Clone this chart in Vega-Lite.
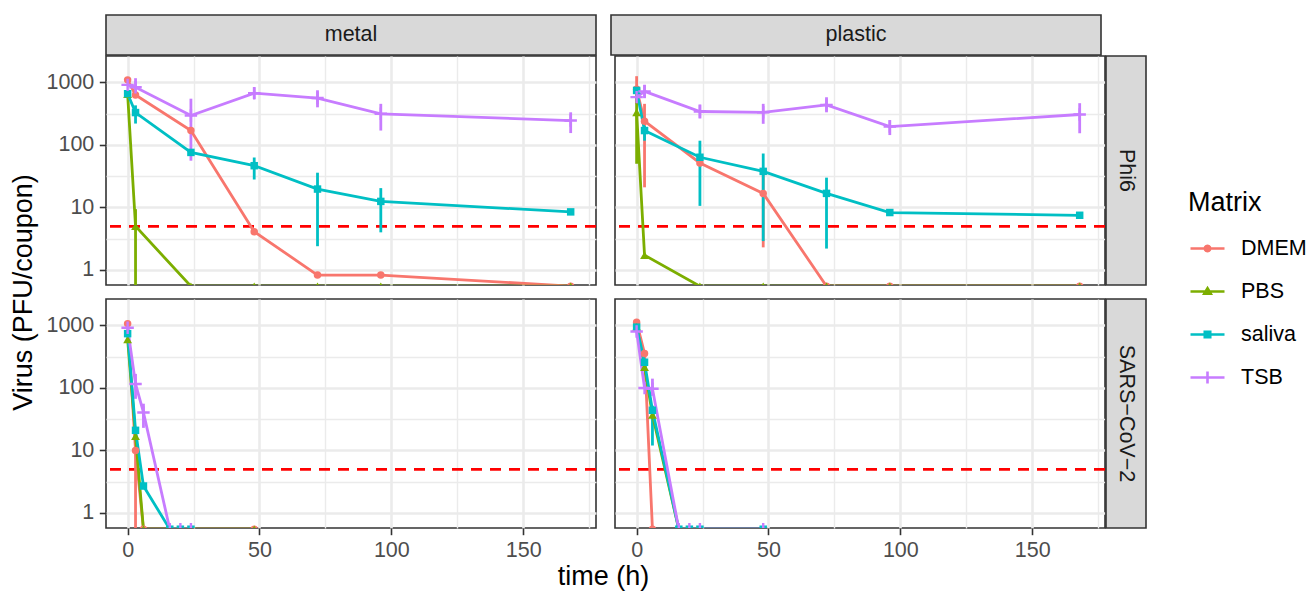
{
"$schema":"https://vega.github.io/schema/vega-lite/v6.json",
"padding":{"left":10,"top":14,"right":5,"bottom":0},
"background":"white",
"config":{"font":"Liberation Sans","view":{"stroke":null},
 "axis":{"labelFont":"Liberation Sans","labelFontSize":21.5,"labelColor":"#4D4D4D","tickColor":"#333333","tickWidth":1.6,"tickSize":6.7,"domain":false,"gridColor":"#EBEBEB","labelOverlap":false,"labelFlush":false}},
"datasets":{"d":[
{"s":"metal","v":"Phi6","m":"DMEM","t":0,"y":1100},
{"s":"metal","v":"Phi6","m":"DMEM","t":3,"y":630},
{"s":"metal","v":"Phi6","m":"DMEM","t":24,"y":170},
{"s":"metal","v":"Phi6","m":"DMEM","t":48,"y":4.1},
{"s":"metal","v":"Phi6","m":"DMEM","t":72,"y":0.83},
{"s":"metal","v":"Phi6","m":"DMEM","t":96,"y":0.83},
{"s":"metal","v":"Phi6","m":"DMEM","t":168,"y":0.55},
{"s":"metal","v":"Phi6","m":"PBS","t":0,"y":650},
{"s":"metal","v":"Phi6","m":"PBS","t":3,"y":5,"lo":0.55,"hi":9.4},
{"s":"metal","v":"Phi6","m":"PBS","t":24,"y":0.55},
{"s":"metal","v":"Phi6","m":"PBS","t":48,"y":0.55},
{"s":"metal","v":"Phi6","m":"PBS","t":72,"y":0.55},
{"s":"metal","v":"Phi6","m":"PBS","t":96,"y":0.55},
{"s":"metal","v":"Phi6","m":"PBS","t":168,"y":0.55},
{"s":"metal","v":"Phi6","m":"saliva","t":0,"y":660},
{"s":"metal","v":"Phi6","m":"saliva","t":3,"y":330,"lo":220,"hi":430},
{"s":"metal","v":"Phi6","m":"saliva","t":24,"y":76},
{"s":"metal","v":"Phi6","m":"saliva","t":48,"y":46.6,"lo":28,"hi":63},
{"s":"metal","v":"Phi6","m":"saliva","t":72,"y":19.7,"lo":2.4,"hi":36},
{"s":"metal","v":"Phi6","m":"saliva","t":96,"y":12.5,"lo":4,"hi":20.4},
{"s":"metal","v":"Phi6","m":"saliva","t":168,"y":8.5},
{"s":"metal","v":"Phi6","m":"TSB","t":0,"y":915},
{"s":"metal","v":"Phi6","m":"TSB","t":3,"y":840,"lo":700,"hi":1170},
{"s":"metal","v":"Phi6","m":"TSB","t":24,"y":296,"lo":56,"hi":550},
{"s":"metal","v":"Phi6","m":"TSB","t":48,"y":673,"lo":545,"hi":841},
{"s":"metal","v":"Phi6","m":"TSB","t":72,"y":563,"lo":400,"hi":750},
{"s":"metal","v":"Phi6","m":"TSB","t":96,"y":315,"lo":170,"hi":455},
{"s":"metal","v":"Phi6","m":"TSB","t":168,"y":246,"lo":155,"hi":333},
{"s":"plastic","v":"Phi6","m":"DMEM","t":0,"y":780,"lo":450,"hi":1260},
{"s":"plastic","v":"Phi6","m":"DMEM","t":3,"y":240,"lo":21,"hi":455},
{"s":"plastic","v":"Phi6","m":"DMEM","t":24,"y":51.5},
{"s":"plastic","v":"Phi6","m":"DMEM","t":48,"y":16.8,"lo":2.3,"hi":38.8},
{"s":"plastic","v":"Phi6","m":"DMEM","t":72,"y":0.55},
{"s":"plastic","v":"Phi6","m":"DMEM","t":96,"y":0.55},
{"s":"plastic","v":"Phi6","m":"DMEM","t":168,"y":0.55},
{"s":"plastic","v":"Phi6","m":"PBS","t":0,"y":333,"lo":50,"hi":750},
{"s":"plastic","v":"Phi6","m":"PBS","t":3,"y":1.72},
{"s":"plastic","v":"Phi6","m":"PBS","t":24,"y":0.55},
{"s":"plastic","v":"Phi6","m":"PBS","t":48,"y":0.55},
{"s":"plastic","v":"Phi6","m":"PBS","t":72,"y":0.55},
{"s":"plastic","v":"Phi6","m":"PBS","t":96,"y":0.55},
{"s":"plastic","v":"Phi6","m":"PBS","t":168,"y":0.55},
{"s":"plastic","v":"Phi6","m":"saliva","t":0,"y":745},
{"s":"plastic","v":"Phi6","m":"saliva","t":3,"y":170,"lo":117,"hi":200},
{"s":"plastic","v":"Phi6","m":"saliva","t":24,"y":63.6,"lo":10.6,"hi":117},
{"s":"plastic","v":"Phi6","m":"saliva","t":48,"y":37.8,"lo":2.9,"hi":73},
{"s":"plastic","v":"Phi6","m":"saliva","t":72,"y":16.8,"lo":2.2,"hi":30},
{"s":"plastic","v":"Phi6","m":"saliva","t":96,"y":8.3},
{"s":"plastic","v":"Phi6","m":"saliva","t":168,"y":7.5},
{"s":"plastic","v":"Phi6","m":"TSB","t":0,"y":582},
{"s":"plastic","v":"Phi6","m":"TSB","t":3,"y":720,"lo":560,"hi":920},
{"s":"plastic","v":"Phi6","m":"TSB","t":24,"y":343,"lo":265,"hi":445},
{"s":"plastic","v":"Phi6","m":"TSB","t":48,"y":333,"lo":218,"hi":455},
{"s":"plastic","v":"Phi6","m":"TSB","t":72,"y":437,"lo":333,"hi":580},
{"s":"plastic","v":"Phi6","m":"TSB","t":96,"y":197,"lo":144,"hi":250},
{"s":"plastic","v":"Phi6","m":"TSB","t":168,"y":307,"lo":154,"hi":466},
{"s":"metal","v":"SARS-CoV-2","m":"DMEM","t":0,"y":1070},
{"s":"metal","v":"SARS-CoV-2","m":"DMEM","t":3,"y":10,"lo":0.55,"hi":10},
{"s":"metal","v":"SARS-CoV-2","m":"DMEM","t":6,"y":0.55},
{"s":"metal","v":"SARS-CoV-2","m":"DMEM","t":48,"y":0.55},
{"s":"metal","v":"SARS-CoV-2","m":"PBS","t":0,"y":600},
{"s":"metal","v":"SARS-CoV-2","m":"PBS","t":3,"y":17},
{"s":"metal","v":"SARS-CoV-2","m":"PBS","t":6,"y":0.55},
{"s":"metal","v":"SARS-CoV-2","m":"PBS","t":48,"y":0.55},
{"s":"metal","v":"SARS-CoV-2","m":"saliva","t":0,"y":740},
{"s":"metal","v":"SARS-CoV-2","m":"saliva","t":3,"y":21},
{"s":"metal","v":"SARS-CoV-2","m":"saliva","t":6,"y":2.7},
{"s":"metal","v":"SARS-CoV-2","m":"saliva","t":16,"y":0.55},
{"s":"metal","v":"SARS-CoV-2","m":"saliva","t":20,"y":0.55},
{"s":"metal","v":"SARS-CoV-2","m":"saliva","t":24,"y":0.55},
{"s":"metal","v":"SARS-CoV-2","m":"TSB","t":0,"y":920},
{"s":"metal","v":"SARS-CoV-2","m":"TSB","t":3,"y":116,"lo":67,"hi":168},
{"s":"metal","v":"SARS-CoV-2","m":"TSB","t":6,"y":40.6,"lo":23,"hi":56},
{"s":"metal","v":"SARS-CoV-2","m":"TSB","t":16,"y":0.55},
{"s":"metal","v":"SARS-CoV-2","m":"TSB","t":20,"y":0.55},
{"s":"metal","v":"SARS-CoV-2","m":"TSB","t":24,"y":0.55},
{"s":"plastic","v":"SARS-CoV-2","m":"DMEM","t":0,"y":1130},
{"s":"plastic","v":"SARS-CoV-2","m":"DMEM","t":3,"y":355},
{"s":"plastic","v":"SARS-CoV-2","m":"DMEM","t":6,"y":0.55},
{"s":"plastic","v":"SARS-CoV-2","m":"PBS","t":0,"y":950},
{"s":"plastic","v":"SARS-CoV-2","m":"PBS","t":3,"y":215},
{"s":"plastic","v":"SARS-CoV-2","m":"PBS","t":6,"y":37},
{"s":"plastic","v":"SARS-CoV-2","m":"PBS","t":16,"y":0.55},
{"s":"plastic","v":"SARS-CoV-2","m":"PBS","t":20,"y":0.55},
{"s":"plastic","v":"SARS-CoV-2","m":"PBS","t":24,"y":0.55},
{"s":"plastic","v":"SARS-CoV-2","m":"saliva","t":0,"y":940},
{"s":"plastic","v":"SARS-CoV-2","m":"saliva","t":3,"y":258},
{"s":"plastic","v":"SARS-CoV-2","m":"saliva","t":6,"y":44,"lo":12,"hi":52},
{"s":"plastic","v":"SARS-CoV-2","m":"saliva","t":16,"y":0.55},
{"s":"plastic","v":"SARS-CoV-2","m":"saliva","t":20,"y":0.55},
{"s":"plastic","v":"SARS-CoV-2","m":"saliva","t":24,"y":0.55},
{"s":"plastic","v":"SARS-CoV-2","m":"saliva","t":48,"y":0.55},
{"s":"plastic","v":"SARS-CoV-2","m":"TSB","t":0,"y":800},
{"s":"plastic","v":"SARS-CoV-2","m":"TSB","t":3,"y":100},
{"s":"plastic","v":"SARS-CoV-2","m":"TSB","t":6,"y":97,"lo":75,"hi":141},
{"s":"plastic","v":"SARS-CoV-2","m":"TSB","t":16,"y":0.55},
{"s":"plastic","v":"SARS-CoV-2","m":"TSB","t":20,"y":0.55},
{"s":"plastic","v":"SARS-CoV-2","m":"TSB","t":24,"y":0.55},
{"s":"plastic","v":"SARS-CoV-2","m":"TSB","t":48,"y":0.55}
]},
"spacing":8,
"hconcat":[
 {"width":24,"height":555,"data":{"values":[{"label":"Virus (PFU/coupon)"}]},
  "mark":{"type":"text","angle":270,"fontSize":27,"color":"black","align":"center","baseline":"middle"},
  "encoding":{"text":{"field":"label"}}},
 {"spacing":-1,"vconcat":[
  {"spacing":13,"hconcat":[
   {"width":490,"height":40,"view":{"fill":"#D9D9D9","stroke":"#333333","strokeWidth":1.6},"data":{"values":[{"label":"metal"}]},
    "mark":{"type":"text","fontSize":21.5,"color":"#1A1A1A","align":"center","baseline":"middle"},"encoding":{"text":{"field":"label"}}},
   {"width":490,"height":40,"view":{"fill":"#D9D9D9","stroke":"#333333","strokeWidth":1.6},"data":{"values":[{"label":"plastic"}]},
    "mark":{"type":"text","fontSize":21.5,"color":"#1A1A1A","align":"center","baseline":"middle"},"encoding":{"text":{"field":"label"}}}
  ]},
  {"spacing":12,"vconcat":[
    {"spacing":13,"hconcat":[
     {"width":490,"height":229,"view":{"stroke":"#333333","strokeWidth":1.6,"fill":"white"},
      "data":{"name":"d"},"transform":[{"filter":"datum.s === 'metal' && datum.v === 'Phi6'"}],
      "layer":[
       {"data":{"values":[{}]},"mark":{"type":"rule","color":"#FF0000","strokeWidth":2.7,"strokeDash":[11,8]},
        "encoding":{"y":{"datum":5,"type":"quantitative","scale":{"type":"log","domain":[0.575,2650],"nice":false}}}},
       {"mark":{"type":"rule","strokeWidth":2.8,"clip":true},
        "encoding":{"x":{"field":"t","type":"quantitative","scale":{"domain":[-8.2,177.6],"nice":false,"zero":false}},
         "y":{"field":"lo","type":"quantitative","scale":{"type":"log","domain":[0.575,2650],"nice":false}},"y2":{"field":"hi"},
         "color":{"field":"m","type":"nominal","scale":{"domain":["DMEM","PBS","saliva","TSB"],"range":["#F8766D","#7CAE00","#00BFC4","#C77CFF"]},
          "legend":{"title":"Matrix","orient":"none","legendX":1176,"legendY":175,"padding":0,
           "titleFontSize":27,"titleFont":"Liberation Sans","titleFontWeight":"normal","titleColor":"black","titlePadding":13,
           "labelFontSize":21.5,"labelFont":"Liberation Sans","labelColor":"black","labelOffset":15,"symbolOffset":1,
           "symbolSize":1156,"rowPadding":14,
           "encode":{"symbols":{"update":{
            "shape":{"signal":"datum.value === 'DMEM' ? 'M-1,0H1M0.16,0L0.139,0.08L0.08,0.139L0,0.16L-0.08,0.139L-0.139,0.08L-0.16,0L-0.139,-0.08L-0.08,-0.139L0,-0.16L0.08,-0.139L0.139,-0.08Z' : datum.value === 'PBS' ? 'M-1,0H1M0,-0.19L0.19,0.13L-0.19,0.13Z' : datum.value === 'saliva' ? 'M-1,0H1M-0.16,-0.16H0.16V0.16H-0.16Z' : 'M-1,0H1M0,-0.35V0.35'"},
            "strokeWidth":{"value":2.6},
            "opacity":{"value":1}}}}}}}},
       {"mark":{"type":"line","strokeWidth":2.8,"clip":true},
        "encoding":{"x":{"field":"t","type":"quantitative","scale":{"domain":[-8.2,177.6],"nice":false,"zero":false}},
         "y":{"field":"y","type":"quantitative","scale":{"type":"log","domain":[0.575,2650],"nice":false}},
         "color":{"field":"m","type":"nominal","scale":{"domain":["DMEM","PBS","saliva","TSB"],"range":["#F8766D","#7CAE00","#00BFC4","#C77CFF"]}}}},
       {"mark":{"type":"point","filled":true,"opacity":1,"clip":true},
        "encoding":{"x":{"field":"t","type":"quantitative","scale":{"domain":[-8.2,177.6],"nice":false,"zero":false},
          "axis":{"title":null,"values":[0,25,50,75,100,125,150,175],"grid":true,"gridWidth":{"condition":{"test":"datum.value % 50 === 0","value":2.6},"value":1.4},"labels":false,"ticks":false}},
         "y":{"field":"y","type":"quantitative","scale":{"type":"log","domain":[0.575,2650],"nice":false},
          "axis":{"title":null,"values":[1,3.1623,10,31.623,100,316.23,1000],"grid":true,
           "gridWidth":{"condition":{"test":"datum.value===1||datum.value===10||datum.value===100||datum.value===1000","value":2.6},"value":1.4},
           "tickOpacity":{"condition":{"test":"datum.value===1||datum.value===10||datum.value===100||datum.value===1000","value":1},"value":0},
           "labelExpr":"(datum.value===1||datum.value===10||datum.value===100||datum.value===1000) ? format(datum.value,'d') : ''","labelPadding":5.5}},
         "color":{"field":"m","type":"nominal","scale":{"domain":["DMEM","PBS","saliva","TSB"],"range":["#F8766D","#7CAE00","#00BFC4","#C77CFF"]}},
         "shape":{"field":"m","type":"nominal","sort":["DMEM","PBS","saliva","TSB"],"scale":{"range":["circle","triangle-up","square","M-1.66,0H1.66M0,-1.66V1.66"]},"legend":null},
         "stroke":{"field":"m","type":"nominal","scale":{"domain":["DMEM","PBS","saliva","TSB"],"range":["#F8766D","#7CAE00","#00BFC4","#C77CFF"]}},
         "strokeWidth":{"condition":{"test":"datum.m === 'TSB'","value":2.4},"value":0},
         "size":{"condition":{"test":"datum.m === 'PBS'","value":78},"value":56}}}
      ]},
     {"spacing":1,"bounds":"flush","hconcat":[
     {"width":490,"height":229,"view":{"stroke":"#333333","strokeWidth":1.6,"fill":"white"},
      "data":{"name":"d"},"transform":[{"filter":"datum.s === 'plastic' && datum.v === 'Phi6'"}],
      "layer":[
       {"data":{"values":[{}]},"mark":{"type":"rule","color":"#FF0000","strokeWidth":2.7,"strokeDash":[11,8]},
        "encoding":{"y":{"datum":5,"type":"quantitative","scale":{"type":"log","domain":[0.575,2650],"nice":false}}}},
       {"mark":{"type":"rule","strokeWidth":2.8,"clip":true},
        "encoding":{"x":{"field":"t","type":"quantitative","scale":{"domain":[-8.2,177.6],"nice":false,"zero":false}},
         "y":{"field":"lo","type":"quantitative","scale":{"type":"log","domain":[0.575,2650],"nice":false}},"y2":{"field":"hi"},
         "color":{"field":"m","type":"nominal","scale":{"domain":["DMEM","PBS","saliva","TSB"],"range":["#F8766D","#7CAE00","#00BFC4","#C77CFF"]}}}},
       {"mark":{"type":"line","strokeWidth":2.8,"clip":true},
        "encoding":{"x":{"field":"t","type":"quantitative","scale":{"domain":[-8.2,177.6],"nice":false,"zero":false}},
         "y":{"field":"y","type":"quantitative","scale":{"type":"log","domain":[0.575,2650],"nice":false}},
         "color":{"field":"m","type":"nominal","scale":{"domain":["DMEM","PBS","saliva","TSB"],"range":["#F8766D","#7CAE00","#00BFC4","#C77CFF"]}}}},
       {"mark":{"type":"point","filled":true,"opacity":1,"clip":true},
        "encoding":{"x":{"field":"t","type":"quantitative","scale":{"domain":[-8.2,177.6],"nice":false,"zero":false},
          "axis":{"title":null,"values":[0,25,50,75,100,125,150,175],"grid":true,"gridWidth":{"condition":{"test":"datum.value % 50 === 0","value":2.6},"value":1.4},"labels":false,"ticks":false}},
         "y":{"field":"y","type":"quantitative","scale":{"type":"log","domain":[0.575,2650],"nice":false},
          "axis":{"title":null,"values":[1,3.1623,10,31.623,100,316.23,1000],"grid":true,
           "gridWidth":{"condition":{"test":"datum.value===1||datum.value===10||datum.value===100||datum.value===1000","value":2.6},"value":1.4},"labels":false,"ticks":false}},
         "color":{"field":"m","type":"nominal","scale":{"domain":["DMEM","PBS","saliva","TSB"],"range":["#F8766D","#7CAE00","#00BFC4","#C77CFF"]}},
         "shape":{"field":"m","type":"nominal","sort":["DMEM","PBS","saliva","TSB"],"scale":{"range":["circle","triangle-up","square","M-1.66,0H1.66M0,-1.66V1.66"]},"legend":null},
         "stroke":{"field":"m","type":"nominal","scale":{"domain":["DMEM","PBS","saliva","TSB"],"range":["#F8766D","#7CAE00","#00BFC4","#C77CFF"]}},
         "strokeWidth":{"condition":{"test":"datum.m === 'TSB'","value":2.4},"value":0},
         "size":{"condition":{"test":"datum.m === 'PBS'","value":78},"value":56}}}
      ]},
     {"width":40,"height":229,"view":{"fill":"#D9D9D9","stroke":"#333333","strokeWidth":1.6},"data":{"values":[{"label":"Phi6"}]},
      "mark":{"type":"text","angle":90,"fontSize":21.5,"color":"#1A1A1A","align":"center","baseline":"middle"},"encoding":{"text":{"field":"label"}}}
     ]}
    ]},
    {"spacing":13,"hconcat":[
     {"width":490,"height":229,"view":{"stroke":"#333333","strokeWidth":1.6,"fill":"white"},
      "data":{"name":"d"},"transform":[{"filter":"datum.s === 'metal' && datum.v === 'SARS-CoV-2'"}],
      "layer":[
       {"data":{"values":[{}]},"mark":{"type":"rule","color":"#FF0000","strokeWidth":2.7,"strokeDash":[11,8]},
        "encoding":{"y":{"datum":5,"type":"quantitative","scale":{"type":"log","domain":[0.575,2650],"nice":false}}}},
       {"mark":{"type":"rule","strokeWidth":2.8,"clip":true},
        "encoding":{"x":{"field":"t","type":"quantitative","scale":{"domain":[-8.2,177.6],"nice":false,"zero":false}},
         "y":{"field":"lo","type":"quantitative","scale":{"type":"log","domain":[0.575,2650],"nice":false}},"y2":{"field":"hi"},
         "color":{"field":"m","type":"nominal","scale":{"domain":["DMEM","PBS","saliva","TSB"],"range":["#F8766D","#7CAE00","#00BFC4","#C77CFF"]}}}},
       {"mark":{"type":"line","strokeWidth":2.8,"clip":true},
        "encoding":{"x":{"field":"t","type":"quantitative","scale":{"domain":[-8.2,177.6],"nice":false,"zero":false}},
         "y":{"field":"y","type":"quantitative","scale":{"type":"log","domain":[0.575,2650],"nice":false}},
         "color":{"field":"m","type":"nominal","scale":{"domain":["DMEM","PBS","saliva","TSB"],"range":["#F8766D","#7CAE00","#00BFC4","#C77CFF"]}}}},
       {"mark":{"type":"point","filled":true,"opacity":1,"clip":true},
        "encoding":{"x":{"field":"t","type":"quantitative","scale":{"domain":[-8.2,177.6],"nice":false,"zero":false},
          "axis":{"title":null,"values":[0,25,50,75,100,125,150,175],"grid":true,"gridWidth":{"condition":{"test":"datum.value % 50 === 0","value":2.6},"value":1.4},
           "tickOpacity":{"condition":{"test":"datum.value % 50 === 0","value":1},"value":0},
           "labelExpr":"datum.value % 50 === 0 ? datum.label : ''","labelPadding":5}},
         "y":{"field":"y","type":"quantitative","scale":{"type":"log","domain":[0.575,2650],"nice":false},
          "axis":{"title":null,"values":[1,3.1623,10,31.623,100,316.23,1000],"grid":true,
           "gridWidth":{"condition":{"test":"datum.value===1||datum.value===10||datum.value===100||datum.value===1000","value":2.6},"value":1.4},
           "tickOpacity":{"condition":{"test":"datum.value===1||datum.value===10||datum.value===100||datum.value===1000","value":1},"value":0},
           "labelExpr":"(datum.value===1||datum.value===10||datum.value===100||datum.value===1000) ? format(datum.value,'d') : ''","labelPadding":5.5}},
         "color":{"field":"m","type":"nominal","scale":{"domain":["DMEM","PBS","saliva","TSB"],"range":["#F8766D","#7CAE00","#00BFC4","#C77CFF"]}},
         "shape":{"field":"m","type":"nominal","sort":["DMEM","PBS","saliva","TSB"],"scale":{"range":["circle","triangle-up","square","M-1.66,0H1.66M0,-1.66V1.66"]},"legend":null},
         "stroke":{"field":"m","type":"nominal","scale":{"domain":["DMEM","PBS","saliva","TSB"],"range":["#F8766D","#7CAE00","#00BFC4","#C77CFF"]}},
         "strokeWidth":{"condition":{"test":"datum.m === 'TSB'","value":2.4},"value":0},
         "size":{"condition":{"test":"datum.m === 'PBS'","value":78},"value":56}}}
      ]},
     {"spacing":1,"bounds":"flush","hconcat":[
     {"width":490,"height":229,"view":{"stroke":"#333333","strokeWidth":1.6,"fill":"white"},
      "data":{"name":"d"},"transform":[{"filter":"datum.s === 'plastic' && datum.v === 'SARS-CoV-2'"}],
      "layer":[
       {"data":{"values":[{}]},"mark":{"type":"rule","color":"#FF0000","strokeWidth":2.7,"strokeDash":[11,8]},
        "encoding":{"y":{"datum":5,"type":"quantitative","scale":{"type":"log","domain":[0.575,2650],"nice":false}}}},
       {"mark":{"type":"rule","strokeWidth":2.8,"clip":true},
        "encoding":{"x":{"field":"t","type":"quantitative","scale":{"domain":[-8.2,177.6],"nice":false,"zero":false}},
         "y":{"field":"lo","type":"quantitative","scale":{"type":"log","domain":[0.575,2650],"nice":false}},"y2":{"field":"hi"},
         "color":{"field":"m","type":"nominal","scale":{"domain":["DMEM","PBS","saliva","TSB"],"range":["#F8766D","#7CAE00","#00BFC4","#C77CFF"]}}}},
       {"mark":{"type":"line","strokeWidth":2.8,"clip":true},
        "encoding":{"x":{"field":"t","type":"quantitative","scale":{"domain":[-8.2,177.6],"nice":false,"zero":false}},
         "y":{"field":"y","type":"quantitative","scale":{"type":"log","domain":[0.575,2650],"nice":false}},
         "color":{"field":"m","type":"nominal","scale":{"domain":["DMEM","PBS","saliva","TSB"],"range":["#F8766D","#7CAE00","#00BFC4","#C77CFF"]}}}},
       {"mark":{"type":"point","filled":true,"opacity":1,"clip":true},
        "encoding":{"x":{"field":"t","type":"quantitative","scale":{"domain":[-8.2,177.6],"nice":false,"zero":false},
          "axis":{"title":null,"values":[0,25,50,75,100,125,150,175],"grid":true,"gridWidth":{"condition":{"test":"datum.value % 50 === 0","value":2.6},"value":1.4},
           "tickOpacity":{"condition":{"test":"datum.value % 50 === 0","value":1},"value":0},
           "labelExpr":"datum.value % 50 === 0 ? datum.label : ''","labelPadding":5}},
         "y":{"field":"y","type":"quantitative","scale":{"type":"log","domain":[0.575,2650],"nice":false},
          "axis":{"title":null,"values":[1,3.1623,10,31.623,100,316.23,1000],"grid":true,
           "gridWidth":{"condition":{"test":"datum.value===1||datum.value===10||datum.value===100||datum.value===1000","value":2.6},"value":1.4},"labels":false,"ticks":false}},
         "color":{"field":"m","type":"nominal","scale":{"domain":["DMEM","PBS","saliva","TSB"],"range":["#F8766D","#7CAE00","#00BFC4","#C77CFF"]}},
         "shape":{"field":"m","type":"nominal","sort":["DMEM","PBS","saliva","TSB"],"scale":{"range":["circle","triangle-up","square","M-1.66,0H1.66M0,-1.66V1.66"]},"legend":null},
         "stroke":{"field":"m","type":"nominal","scale":{"domain":["DMEM","PBS","saliva","TSB"],"range":["#F8766D","#7CAE00","#00BFC4","#C77CFF"]}},
         "strokeWidth":{"condition":{"test":"datum.m === 'TSB'","value":2.4},"value":0},
         "size":{"condition":{"test":"datum.m === 'PBS'","value":78},"value":56}}}
      ]},
     {"width":40,"height":229,"view":{"fill":"#D9D9D9","stroke":"#333333","strokeWidth":1.6},"data":{"values":[{"label":"SARS−CoV−2"}]},
      "mark":{"type":"text","angle":90,"fontSize":21.5,"color":"#1A1A1A","align":"center","baseline":"middle"},"encoding":{"text":{"field":"label"}}}
     ]}
    ]}
  ]},
  {"width":995,"height":30,"data":{"values":[{"label":"time (h)"}]},
   "mark":{"type":"text","fontSize":27,"color":"black","align":"center","baseline":"middle"},"encoding":{"text":{"field":"label"}}}
 ]}
]
}
